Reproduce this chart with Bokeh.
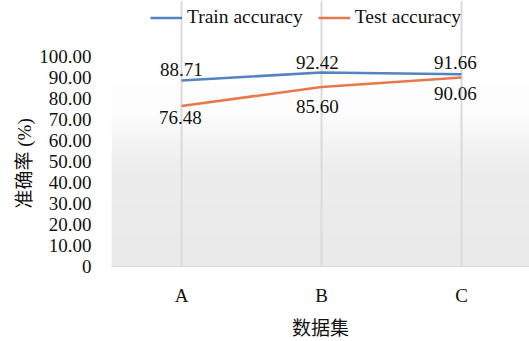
import numpy as np
from bokeh.plotting import figure
from bokeh.models import (ColumnDataSource, LabelSet, Legend, LegendItem,
                          FixedTicker, Range1d, Title)
from bokeh.embed import file_html
from bokeh.resources import INLINE

# Accuracy per dataset (%)
datasets = ["A", "B", "C"]
train_acc = [88.71, 92.42, 91.66]
test_acc = [76.48, 85.60, 90.06]
y_ticks = [0, 10, 20, 30, 40, 50, 60, 70, 80, 90, 100]
y_tick_labels = ["0", "10.00", "20.00", "30.00", "40.00", "50.00",
                 "60.00", "70.00", "80.00", "90.00", "100.00"]

SERIF = "Liberation Serif"
CJK = "Liberation Serif, Noto Sans CJK SC"
BLUE = "#5383c0"
ORANGE = "#e8784a"
INK = "#111111"

xs = list(range(len(datasets)))

# the frame runs to the top edge so the legend can sit above the 0-100 band
p = figure(width=529, height=341, output_backend="svg", toolbar_location=None,
           x_range=Range1d(-0.5, 2.486), y_range=Range1d(0, 126.8),
           min_border_left=111, min_border_right=0, min_border_top=0,
           min_border_bottom=71)
p.outline_line_color = None
p.background_fill_color = "#ffffff"
p.border_fill_color = "#ffffff"

# soft vertical gradient behind the data: white at the top fading to light grey
rows = 200
t = np.linspace(0, 1, rows)  # 0 = bottom row, 1 = top row
shade = np.interp(t, [0.0, 0.45, 0.58, 0.72, 1.0], [234, 237, 243, 253, 255])
img = np.zeros((rows, 2), dtype=np.uint32)
view = img.view(dtype=np.uint8).reshape((rows, 2, 4))
g = shade.astype(np.uint8)
view[:, :, 0] = g[:, None]
view[:, :, 1] = g[:, None]
view[:, :, 2] = g[:, None]
view[:, :, 3] = 255
bg = p.image_rgba(image=[img], x=-0.5, y=0, dw=3.0, dh=100)
bg.level = "image"

# axes
p.xaxis.ticker = FixedTicker(ticks=xs)
p.xaxis.major_label_overrides = {i: s for i, s in zip(xs, datasets)}
p.yaxis.ticker = FixedTicker(ticks=y_ticks)
p.yaxis.major_label_overrides = {v: s for v, s in zip(y_ticks, y_tick_labels)}
p.yaxis.bounds = (0, 100)

for ax in (p.xaxis[0], p.yaxis[0]):
    ax.major_tick_line_color = None
    ax.minor_tick_line_color = None
    ax.major_label_text_font = SERIF
    ax.major_label_text_font_size = "19px"
    ax.major_label_text_color = INK
    ax.axis_label_text_font_style = "normal"
    ax.axis_label_text_font_size = "19px"
    ax.axis_label_text_color = INK

p.xaxis.axis_line_color = "#d6d6d6"
p.yaxis.axis_line_color = None
p.xaxis.major_label_standoff = 12
p.yaxis.major_label_standoff = 14
p.xaxis.axis_label = "数据集"
p.xaxis.axis_label_text_font = CJK
p.xaxis.axis_label_standoff = 9

# y-axis caption as a side title so it can be centred on the 0-100 band
ytitle = Title(text="准确率 (%)", align="left", offset=58, standoff=4,
               text_font=CJK, text_font_size="19px", text_font_style="normal",
               text_color=INK)
p.add_layout(ytitle, "left")

p.ygrid.grid_line_color = None
p.xgrid.ticker = FixedTicker(ticks=xs)
p.xgrid.bounds = (0, 100)
p.xgrid.grid_line_color = "#dadada"
p.xgrid.grid_line_width = 2

# series lines
r_train = p.line(xs, train_acc, line_color=BLUE, line_width=2.5)
r_test = p.line(xs, test_acc, line_color=ORANGE, line_width=2.5)

# value labels: training above the line, test below it
train_src = ColumnDataSource(dict(
    x=xs, y=train_acc, txt=[f"{v:.2f}" for v in train_acc],
    dx=[0, -4, -6], dy=[11, 10, 12]))
test_src = ColumnDataSource(dict(
    x=xs, y=test_acc, txt=[f"{v:.2f}" for v in test_acc],
    dx=[-1, -4, -6], dy=[-11, -20, -16]))
for src in (train_src, test_src):
    p.add_layout(LabelSet(x="x", y="y", text="txt", source=src,
                          x_offset="dx", y_offset="dy",
                          text_align="center", text_baseline="middle",
                          text_font=SERIF, text_font_size="19px",
                          text_color=INK))

legend = Legend(items=[LegendItem(label="Train accuracy", renderers=[r_train]),
                       LegendItem(label="Test accuracy", renderers=[r_test])],
                orientation="horizontal", location=(39, 238),
                glyph_width=32, glyph_height=19, label_standoff=5, spacing=15,
                padding=0, margin=0, border_line_color=None,
                background_fill_alpha=0,
                label_text_font=SERIF, label_text_font_size="19.5px",
                label_text_color=INK)
p.add_layout(legend)

open("out.html", "w").write(file_html(p, INLINE))
